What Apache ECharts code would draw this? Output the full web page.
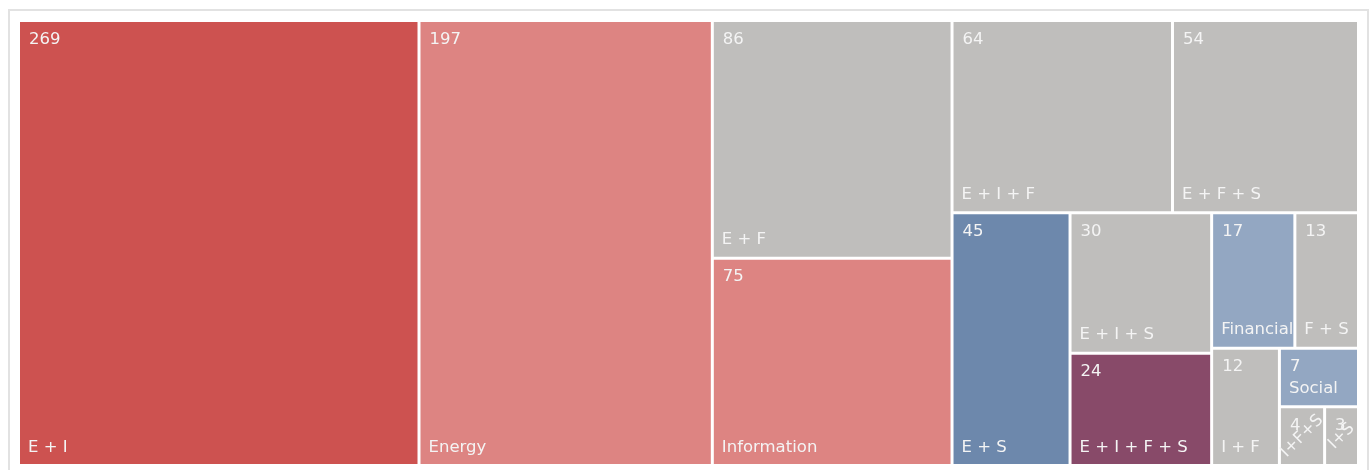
<!DOCTYPE html>
<html>
<head>
<meta charset="utf-8">
<script src="https://cdn.jsdelivr.net/npm/echarts@6/dist/echarts.min.js"></script>
<style>
html,body{margin:0;padding:0;background:#fff;}
#chart{width:1372px;height:470px;}
</style>
</head>
<body>
<div id="chart"></div>
<script>
const names = ['E + I','Energy','E + F','Information','E + I + F','E + F + S','E + S','E + I + S','E + I + F + S','Financial','F + S','I + F','Social','I+F+S','I+S'];
const values = [269,197,86,75,64,54,45,30,24,17,13,12,7,4,3];
const colorKeys = ['red','lightred','gray','lightred','gray','gray','blue','gray','purple','lightblue','gray','gray','lightblue','gray','gray'];
const rotatedNames = ['I+F+S','I+S'];
// nesting of item indices (groups reproduce the squarified tiling of the original)
const grouping = [0, 1, [2, 3], [4, 5, [6, [7, 8], [[9, 10], [11, [12, [13, 14]]]]]]];

const palette = {
  red:'#cd5250', lightred:'#dd8482', gray:'#bfbebc', blue:'#6d88ac', lightblue:'#93a7c2', purple:'#884a69'
};

const labelFont = {fontFamily:'DejaVu Sans', fontSize:16.5, color:'#f4f4f4'};

function buildNode(g, forNames){
  if (Array.isArray(g)) {
    return {name:'', children: g.map(c => buildNode(c, forNames))};
  }
  const n = names[g];
  const item = {name:n, value:values[g], itemStyle:{color: forNames ? 'rgba(0,0,0,0)' : palette[colorKeys[g]]}};
  if (forNames && rotatedNames.includes(n)) {
    item.label = {position:'inside', rotate:45, distance:0};
  }
  return item;
}
function buildData(forNames){ return grouping.map(g => buildNode(g, forNames)); }

const common = {
  type:'treemap',
  left:20, top:22, right:15, bottom:6,
  roam:false, nodeClick:false,
  breadcrumb:{show:false},
  squareRatio: 1,
  sort: false,
  emphasis:{disabled:true},
  animation:false
};

const chart = echarts.init(document.getElementById('chart'));
chart.setOption({
  animation:false,
  graphic:[{type:'rect', shape:{x:9,y:10,width:1359,height:470}, style:{fill:'none', stroke:'#e2e2e2', lineWidth:2}, silent:true}],
  series:[
    Object.assign({}, common, {
      data: buildData(false),
      itemStyle:{gapWidth:3, borderWidth:0, borderColor:'#fff'},
      label:Object.assign({show:true, position:'insideTopLeft', distance:4, formatter:'{c}', overflow:'none'}, labelFont)
    }),
    Object.assign({}, common, {
      data: buildData(true),
      itemStyle:{gapWidth:3, borderWidth:0, borderColor:'rgba(0,0,0,0)', color:'rgba(0,0,0,0)'},
      label:Object.assign({show:true, position:'insideBottomLeft', distance:3, formatter:'{b}', overflow:'none'}, labelFont),
      silent:true
    })
  ]
});
</script>
</body>
</html>
